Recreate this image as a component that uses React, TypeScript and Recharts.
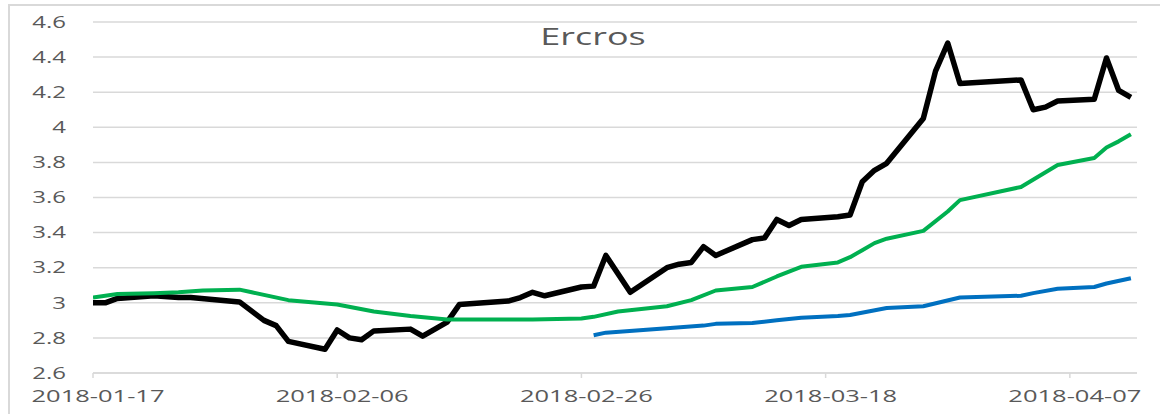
import React from 'react';
import { LineChart, Line, XAxis, YAxis, CartesianGrid } from 'recharts';

// Ercros share price (black) and two moving averages (green, blue)
const blackDates = [
  '2018-01-17', '2018-01-18', '2018-01-19', '2018-01-22', '2018-01-24', '2018-01-25', '2018-01-29',
  '2018-01-31', '2018-02-01', '2018-02-02', '2018-02-05', '2018-02-06', '2018-02-07', '2018-02-08',
  '2018-02-09', '2018-02-12', '2018-02-13', '2018-02-15', '2018-02-16', '2018-02-20', '2018-02-21',
  '2018-02-22', '2018-02-23', '2018-02-26', '2018-02-27', '2018-02-28', '2018-03-02', '2018-03-05',
  '2018-03-06', '2018-03-07', '2018-03-08', '2018-03-09', '2018-03-12', '2018-03-13', '2018-03-14',
  '2018-03-15', '2018-03-16', '2018-03-19', '2018-03-20', '2018-03-21', '2018-03-22', '2018-03-23',
  '2018-03-26', '2018-03-27', '2018-03-28', '2018-03-29', '2018-04-03', '2018-04-04', '2018-04-05',
  '2018-04-06', '2018-04-09', '2018-04-10', '2018-04-11', '2018-04-12',
];
const blackValues = [
  3.0, 3.0, 3.025, 3.04, 3.03, 3.03, 3.005,
  2.9, 2.87, 2.78, 2.735, 2.845, 2.8, 2.79,
  2.84, 2.85, 2.81, 2.89, 2.99, 3.01, 3.03,
  3.06, 3.04, 3.09, 3.095, 3.27, 3.06, 3.2,
  3.22, 3.23, 3.32, 3.27, 3.36, 3.37, 3.475,
  3.44, 3.475, 3.49, 3.5, 3.69, 3.755, 3.795,
  4.05, 4.32, 4.48, 4.25, 4.27, 4.1, 4.115,
  4.15, 4.16, 4.395, 4.21, 4.17,
];

const greenDates = [
  '2018-01-17', '2018-01-19', '2018-01-22', '2018-01-24', '2018-01-26', '2018-01-29', '2018-01-30',
  '2018-02-02', '2018-02-06', '2018-02-09', '2018-02-12', '2018-02-15', '2018-02-16', '2018-02-22',
  '2018-02-26', '2018-02-27', '2018-03-01', '2018-03-05', '2018-03-07', '2018-03-09', '2018-03-12',
  '2018-03-14', '2018-03-16', '2018-03-19', '2018-03-20', '2018-03-21', '2018-03-22', '2018-03-23',
  '2018-03-26', '2018-03-28', '2018-03-29', '2018-04-03', '2018-04-06', '2018-04-09', '2018-04-10',
  '2018-04-11', '2018-04-12',
];
const greenValues = [
  3.03, 3.05, 3.055, 3.06, 3.07, 3.075, 3.06,
  3.015, 2.99, 2.95, 2.925, 2.905, 2.905, 2.905,
  2.91, 2.92, 2.95, 2.98, 3.015, 3.07, 3.09,
  3.15, 3.205, 3.23, 3.26, 3.3, 3.34, 3.365,
  3.41, 3.52, 3.585, 3.66, 3.785, 3.825, 3.885,
  3.92, 3.96,
];

const blueDates = [
  '2018-02-27', '2018-02-28', '2018-03-05', '2018-03-08', '2018-03-09', '2018-03-12', '2018-03-14',
  '2018-03-16', '2018-03-19', '2018-03-20', '2018-03-23', '2018-03-26', '2018-03-29', '2018-04-03',
  '2018-04-04', '2018-04-06', '2018-04-09', '2018-04-10', '2018-04-12',
];
const blueValues = [
  2.815, 2.83, 2.855, 2.87, 2.88, 2.885, 2.9,
  2.915, 2.925, 2.93, 2.97, 2.98, 3.03, 3.04,
  3.055, 3.08, 3.09, 3.11, 3.14,
];

const xTickDates = ['2018-01-17', '2018-02-06', '2018-02-26', '2018-03-18', '2018-04-07'];
const yTicks = [2.6, 2.8, 3, 3.2, 3.4, 3.6, 3.8, 4, 4.2, 4.4, 4.6];

const START = Date.parse('2018-01-17');
const toDay = (d: string) => Math.round((Date.parse(d) - START) / 86400000);
const toDate = (day: number) => new Date(START + day * 86400000).toISOString().slice(0, 10);

const build = (dates: string[], values: number[]) =>
  dates.map((d, i) => ({ day: toDay(d), v: values[i] }));

const blackData = build(blackDates, blackValues);
const greenData = build(greenDates, greenValues);
const blueData = build(blueDates, blueValues);

const GRAY = '#595959';
const GRID = '#d9d9d9';
const FONT = '"Open Sans", "Liberation Sans", sans-serif';

const XTick = (props: any) => {
  const { x, y, payload } = props;
  return (
    <text
      transform={`translate(${x + 5},${y + 24}) scale(1.5,1)`}
      textAnchor="middle"
      fill={GRAY}
      fontSize={17}
      fontFamily={FONT}
    >
      {toDate(payload.value)}
    </text>
  );
};

const YTick = (props: any) => {
  const { x, y, payload } = props;
  return (
    <text
      transform={`translate(${x},${y}) scale(1.5,1)`}
      dy="0.36em"
      textAnchor="end"
      fill={GRAY}
      fontSize={16}
      fontFamily={FONT}
    >
      {String(Number(payload.value.toFixed(1)))}
    </text>
  );
};

export default function App() {
  return (
    <div style={{ position: 'absolute', left: 0, top: 0, width: 1160, height: 414, background: '#fff', overflow: 'hidden' }}>
      <div
        style={{
          position: 'absolute', left: 8, top: 4, width: 1200, height: 500,
          borderLeft: `2px solid ${GRID}`, borderTop: `2px solid ${GRID}`,
        }}
      />
      <LineChart width={1160} height={414} data={blackData} margin={{ top: 22, right: 23, bottom: 0, left: 0 }}>
        <CartesianGrid horizontal vertical={false} stroke={GRID} strokeWidth={1.5} />
        <XAxis
          dataKey="day"
          type="number"
          domain={[0, 85.5]}
          ticks={xTickDates.map(toDay)}
          allowDataOverflow
          height={41}
          tickSize={5}
          tickMargin={0}
          axisLine={{ stroke: GRID, strokeWidth: 1.5 }}
          tickLine={{ stroke: GRID, strokeWidth: 1.5 }}
          tick={<XTick />}
        />
        <YAxis
          domain={[2.6, 4.6]}
          ticks={yTicks}
          width={93}
          axisLine={false}
          tickLine={false}
          tickSize={0}
          tickMargin={27}
          tick={<YTick />}
        />
        <Line data={blackData} dataKey="v" stroke="#000000" strokeWidth={5.5} dot={false} strokeLinejoin="round" isAnimationActive={false} />
        <Line data={greenData} dataKey="v" stroke="#00b050" strokeWidth={4} dot={false} strokeLinejoin="round" isAnimationActive={false} />
        <Line data={blueData} dataKey="v" stroke="#0070c0" strokeWidth={4} dot={false} strokeLinejoin="round" isAnimationActive={false} />
      </LineChart>
      <svg width={1160} height={414} style={{ position: 'absolute', left: 0, top: 0, pointerEvents: 'none' }}>
        <text
          transform="translate(593,45) scale(1.5,1)"
          textAnchor="middle"
          fill={GRAY}
          fontSize={24}
          fontFamily={FONT}
        >
          Ercros
        </text>
      </svg>
    </div>
  );
}
